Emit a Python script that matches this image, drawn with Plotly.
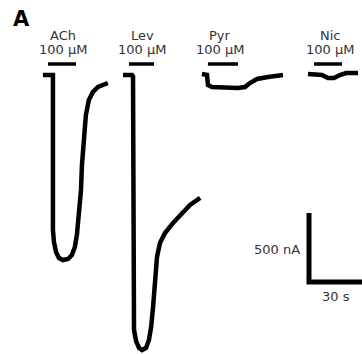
import plotly.graph_objects as go

# ---------------- data ----------------
compounds = ["ACh", "Lev", "Pyr", "Nic"]
concentration = "100 µM"

# start time of each recording within the panel (s)
trace_start_s = [23.0, 65.9, 108.2, 165.0]

# time (s, relative to trace start) and current (nA, relative to baseline)
ach_t = [0, 5.36, 5.36, 5.9, 7.0, 8.6, 10.7, 13.4, 15.5, 17.1, 18.2, 19.3, 20.4, 20.9, 22.0, 23.0, 24.6, 26.8, 29.5, 32.1, 34.8]
ach_i = [0, 0, -1123, -1210, -1283, -1326, -1341, -1333, -1304, -1246, -1159, -1014, -833, -652, -435, -290, -181, -123, -87, -72, -58]

lev_t = [0, 4.82, 5.36, 5.36, 5.9, 7.0, 8.6, 10.2, 12.3, 13.9, 15.0, 16.1, 17.1, 18.2, 19.8, 22.5, 26.8, 31.6, 35.9, 41.3]
lev_i = [0, 0, -10, -1725, -1848, -1928, -1978, -1993, -1978, -1920, -1833, -1681, -1485, -1319, -1217, -1145, -1072, -1000, -942, -891]

pyr_t = [0, 2.68, 3.21, 5.36, 19.3, 23.0, 25.7, 29.5, 35.4, 43.4]
pyr_i = [7, 0, -72, -87, -94, -87, -58, -29, -14, 0]

nic_t = [0, 7.5, 10.7, 13.9, 17.1, 20.4, 26.8]
nic_i = [7, 0, -22, -22, 0, 14, 14]

# drug application bars (s, relative to trace start)
bar_start_s = [2.7, 3.2, 3.2, 3.2]
bar_end_s = [17.7, 16.6, 19.3, 18.2]

# scale bar sizes
scale_current_nA = 500
scale_time_s = 30
scale_labels = ["500 nA", "30 s"]
panel_label = "A"

# ---------------- layout geometry ----------------
W, H = 362, 354
PX_PER_S = 56 / 30.0      # horizontal scale
PX_PER_NA = 69 / 500.0    # vertical scale
BASE_PX = 75              # baseline pixel row

x_range = [0, W / PX_PER_S]
y_range = [(BASE_PX - H) / PX_PER_NA, BASE_PX / PX_PER_NA]

def px_x(px):
    return px / PX_PER_S

def px_y(py):
    return (BASE_PX - py) / PX_PER_NA

fig = go.Figure()

traces = [(ach_t, ach_i), (lev_t, lev_i), (pyr_t, pyr_i), (nic_t, nic_i)]
for (t, i), t0 in zip(traces, trace_start_s):
    fig.add_trace(go.Scatter(
        x=[t0 + v for v in t], y=i, mode="lines",
        line=dict(color="black", width=4.5),
        hoverinfo="skip", showlegend=False,
    ))

# application bars
bar_y = px_y(64)
for t0, b0, b1 in zip(trace_start_s, bar_start_s, bar_end_s):
    fig.add_trace(go.Scatter(
        x=[t0 + b0, t0 + b1], y=[bar_y, bar_y], mode="lines",
        line=dict(color="black", width=3.5),
        hoverinfo="skip", showlegend=False,
    ))

# scale bar
sb_x0 = px_x(309)
sb_top = px_y(213)
sb_bot = sb_top - scale_current_nA
fig.add_trace(go.Scatter(
    x=[sb_x0, sb_x0, sb_x0 + scale_time_s],
    y=[sb_top, sb_bot, sb_bot], mode="lines",
    line=dict(color="black", width=5),
    hoverinfo="skip", showlegend=False,
))

font = dict(family="DejaVu Sans", size=13, color="#333")
label_centers_px = [63, 142, 220, 330]
annotations = []
for name, cx in zip(compounds, label_centers_px):
    annotations.append(dict(x=px_x(cx), y=px_y(35.5), text=name, showarrow=False,
                            xanchor="center", yanchor="middle", font=font))
    annotations.append(dict(x=px_x(cx), y=px_y(49), text=concentration, showarrow=False,
                            xanchor="center", yanchor="middle", font=font))

annotations.append(dict(x=px_x(277), y=px_y(249), text=scale_labels[0], showarrow=False,
                        xanchor="center", yanchor="middle", font=font))
annotations.append(dict(x=px_x(336), y=px_y(296), text=scale_labels[1], showarrow=False,
                        xanchor="center", yanchor="middle", font=font))
annotations.append(dict(x=px_x(21.5), y=px_y(18.5), text=panel_label, showarrow=False,
                        xanchor="center", yanchor="middle",
                        font=dict(family="DejaVu Sans", size=21, color="black", weight="bold")))

fig.update_layout(
    width=W, height=H,
    margin=dict(l=0, r=0, t=0, b=0),
    paper_bgcolor="white", plot_bgcolor="white",
    showlegend=False,
    xaxis=dict(range=x_range, visible=False, fixedrange=True),
    yaxis=dict(range=y_range, visible=False, fixedrange=True),
    annotations=annotations,
)

fig.write_html("out.html")
